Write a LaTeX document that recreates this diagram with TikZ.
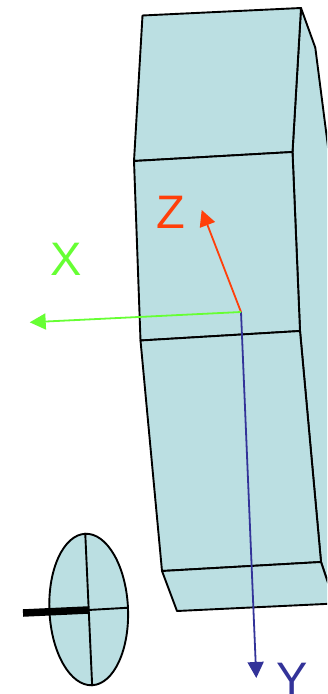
\documentclass[tikz,border=0pt]{standalone}
\usepackage{fontspec}
\setmainfont{Liberation Sans}
\usetikzlibrary{arrows.meta,shapes.geometric}
\definecolor{boxfill}{HTML}{BBDFE2}
\definecolor{axisx}{HTML}{66FF33}
\definecolor{axisy}{HTML}{333399}
\definecolor{axisz}{HTML}{FF3F0A}
\tikzset{
  face/.style={draw=black,fill=boxfill,line width=1.9bp,line join=round},
  axis/.style={line width=1.8bp,-{Triangle[length=16bp,width=16bp]}},
  axislabel/.style={inner sep=0pt,font=\fontsize{47bp}{47bp}\selectfont},
}
\begin{document}
\begin{tikzpicture}[x=1bp,y=-1bp]
\useasboundingbox (0,0) rectangle (327,694);
\clip (0,0) rectangle (327,694);
% box corners
\coordinate (a) at (142.5,15.5);
\coordinate (b) at (301,8);
\coordinate (c) at (292.5,152);
\coordinate (d) at (134,161);
\coordinate (e) at (300,331);
\coordinate (f) at (140.5,340.5);
\coordinate (g) at (321,562);
\coordinate (h) at (162,571);
\coordinate (i) at (177,611);
\coordinate (j) at (335,603.5);
\coordinate (k) at (315.3,47.7);
\coordinate (l) at (340,240);
\draw[face] (b) -- (k) -- (l) -- (j) -- (g) -- (e) -- (c) -- cycle;
\draw[face] (a) -- (b) -- (c) -- (d) -- cycle;
\draw[face] (d) -- (c) -- (e) -- (f) -- cycle;
\draw[face] (f) -- (e) -- (g) -- (h) -- cycle;
\draw[face] (h) -- (g) -- (j) -- (i) -- cycle;
% disc
\node[face,ellipse,inner sep=0pt,minimum width=78.6bp,minimum height=151.6bp,rotate=2.6] (disc) at (88.7,609.5) {};
\coordinate (dc) at (88.3,610);
\coordinate (dl) at (23,613);
\draw[line width=1.9bp] (disc.north) -- (disc.south);
\draw[line width=1.9bp] (dc) -- (disc.east);
\draw[line width=7.5bp] (dl) -- (dc);
% axes
\coordinate (o) at (241,312);
\coordinate (xt) at (29.7,322.3);
\coordinate (yt) at (256.3,678);
\coordinate (zt) at (201.7,210);
\draw[axis,axisy] (o) -- (yt);
\draw[axis,axisz] (o) -- (zt);
\draw[axis,axisx] (o) -- (xt);
\node[axislabel,text=axisz] (lz) at (171,212) {Z};
\node[axislabel,text=axisx] (lx) at (66,259) {X};
\node[axislabel,text=axisy] (ly) at (292,679) {Y};
\end{tikzpicture}
\end{document}
